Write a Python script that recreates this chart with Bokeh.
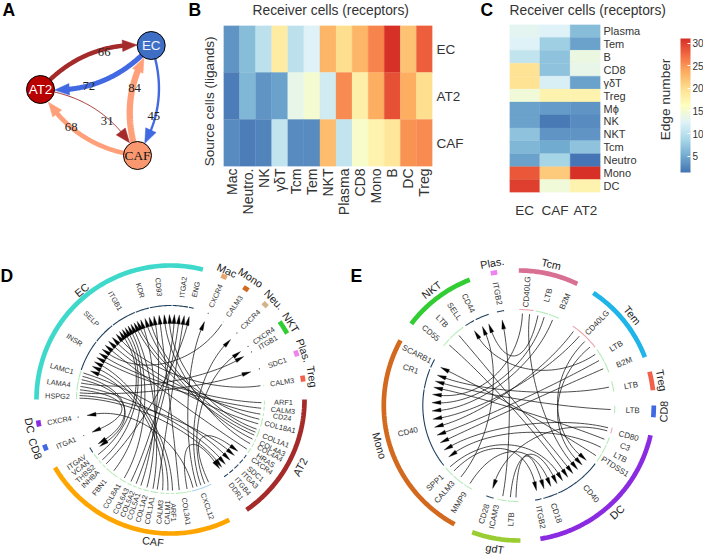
import math
from bokeh.embed import file_html
from bokeh.resources import INLINE
from bokeh.plotting import figure
from bokeh.layouts import row, column
from bokeh.models import (ColumnDataSource, FactorRange, Range1d, LinearColorMapper, ColorBar,
                          FixedTicker)
from bokeh.palettes import RdYlBu9, interp_palette
from bokeh.transform import transform
from bokeh.core.properties import value

# ---------------- data ----------------
A_nodes = ["EC", "AT2", "CAF"]
A_sources = ["AT2", "EC", "CAF", "EC", "AT2", "CAF"]
A_targets = ["EC", "AT2", "EC", "CAF", "CAF", "AT2"]
A_values = [66, 72, 84, 45, 31, 68]

B_cols = ["Mac", "Neutro.", "NK", "γδT", "Tcm", "Tem", "NKT", "Plasma", "CD8", "Mono", "B", "DC", "Treg"]
B_rows = ["EC", "AT2", "CAF"]
B_EC = [3.5, 6.5, 10, 18.5, 10, 12.5, 23, 20, 23, 26, 31, 22, 28]
B_AT2 = [2, 6, 3.5, 4.5, 13.5, 15, 11.5, 25.5, 18, 23.5, 29, 23.5, 20]
B_CAF = [3, 2, 2.5, 10.5, 3, 3, 22.5, 10.5, 15.5, 17.5, 19, 25, 25.5]

C_cols = ["EC", "CAF", "AT2"]
C_rows = ["Plasma", "Tem", "B", "CD8", "γδT", "Treg", "Mϕ", "NK", "NKT", "Tcm", "Neutro", "Mono", "DC"]
C_EC = [13, 12.5, 10.5, 19.5, 19.5, 14.5, 4.5, 4.5, 7, 6, 4.5, 28.5, 30]
C_CAF = [12.5, 8, 7, 7, 12, 17.5, 4, 1.8, 3.5, 5, 8.5, 21.5, 14.5]
C_AT2 = [6.5, 4.5, 14, 13.5, 4.5, 17.5, 3.5, 3, 3.5, 7, 1.5, 31, 17.5]
BAR_TICKS = [5, 10, 15, 20, 25, 30]

D_sector_names = ["EC", "Mac", "Mono", "Neu.", "NKT", "Plas.", "Treg", "AT2", "CAF", "CD8", "DC"]
D_gene_ids = ["EC.HSPG2", "EC.LAMA4", "EC.LAMC1", "EC.INSR", "EC.SELP", "EC.ITGB1", "EC.KDR", "EC.CD93", "EC.ITGA2", "EC.ENG",
              "Mac.CXCR4", "Mono.CALM3", "Neu.CXCR4", "NKT.CXCR4", "NKT.ITGB1", "Plas.SDC1", "Treg.CALM3",
              "AT2.ARF1", "AT2.CALM3", "AT2.CD24", "AT2.COL18A1", "AT2.COL1A1", "AT2.COL4A3", "AT2.COL4A4", "AT2.HRAS",
              "AT2.CXCR4", "AT2.SDC1", "AT2.ITGA3", "AT2.ITGB4", "AT2.DDR1",
              "CAF.CXCL12", "CAF.COL3A1", "CAF.ARF1", "CAF.CALM1", "CAF.CALM3", "CAF.COL1A1", "CAF.COL1A2", "CAF.COL5A1",
              "CAF.COL5A2", "CAF.COL6A3", "CAF.COL8A1", "CAF.FBN1", "CAF.INHBA", "CAF.THBS2", "CAF.VCAN", "CAF.ITGAV",
              "CD8.ITGA1", "DC.CXCR4"]
D_links = {
    "EC.INSR": ["AT2.ARF1", "AT2.CALM3", "CAF.ARF1", "CAF.CALM1", "CAF.CALM3", "Mono.CALM3"],
    "EC.SELP": ["AT2.CD24", "AT2.HRAS", "Treg.CALM3", "AT2.COL18A1"],
    "EC.ITGB1": ["AT2.COL18A1", "AT2.COL1A1", "CAF.COL1A1", "CAF.FBN1", "CAF.VCAN", "CAF.COL8A1", "CAF.THBS2"],
    "EC.KDR": ["AT2.COL1A1", "AT2.COL4A3", "CAF.COL1A2"],
    "EC.CD93": ["AT2.COL1A1", "AT2.COL4A4", "CAF.COL3A1", "CAF.COL5A1"],
    "EC.ITGA2": ["CAF.COL1A1", "CAF.COL5A2", "CAF.COL6A3"],
    "EC.ENG": ["CAF.INHBA"],
    "Mac.CXCR4": ["CAF.CXCL12"], "Neu.CXCR4": ["CAF.CXCL12"], "NKT.CXCR4": ["CAF.CXCL12"],
    "NKT.ITGB1": ["EC.LAMA4"], "Plas.SDC1": ["EC.HSPG2"], "DC.CXCR4": ["CAF.CXCL12"], "CD8.ITGA1": ["EC.LAMA4"],
    "CAF.ITGAV": ["EC.LAMC1", "EC.LAMC1"],
    "AT2.CXCR4": ["CAF.CXCL12"], "AT2.SDC1": ["EC.HSPG2"], "AT2.ITGA3": ["EC.LAMC1"],
    "AT2.ITGB4": ["EC.LAMA4"], "AT2.DDR1": ["EC.HSPG2", "CAF.COL3A1"],
}

E_sector_names = ["Plas.", "Tcm", "Tem", "Treg", "CD8", "DC", "gdT", "Mono", "NKT"]
E_gene_ids = ["Plas.ITGB2", "Tcm.CD40LG", "Tcm.LTB", "Tcm.B2M", "Tem.CD40LG", "Tem.LTB", "Tem.B2M", "Treg.LTB", "CD8.LTB",
              "DC.CD80", "DC.C3", "DC.LTB", "DC.PTDSS1", "DC.CD40", "DC.CD18", "DC.ITGB2",
              "gdT.LTB", "gdT.ICAM3", "gdT.CD28", "Mono.MMP9", "Mono.CALM3", "Mono.SPP1", "Mono.CD40", "Mono.CR1", "Mono.SCARB1",
              "NKT.CD55", "NKT.LTB", "NKT.SELL", "NKT.CD44"]
E_links = {
    "Plas.ITGB2": ["gdT.ICAM3"],
    "gdT.CD28": ["DC.CD80"],
    "DC.CD40": ["Tcm.CD40LG", "Tem.CD40LG", "Tem.CD40LG", "gdT.LTB", "Mono.SPP1", "NKT.LTB", "NKT.CD55"],
    "DC.CD18": ["gdT.LTB", "Mono.MMP9"],
    "DC.ITGB2": ["Mono.SPP1"],
    "Mono.CD40": ["Tcm.CD40LG", "Tcm.LTB", "Tcm.B2M", "Tem.CD40LG", "Tem.CD40LG", "Tem.LTB", "Tem.B2M", "DC.CD80", "DC.LTB"],
    "Mono.CR1": ["Treg.LTB", "CD8.LTB", "DC.C3"],
    "Mono.SCARB1": ["DC.PTDSS1"],
    "NKT.SELL": ["Tem.LTB"],
    "NKT.CD44": ["Tcm.LTB", "Mono.CALM3"],
}

# ---------------- layout (pixels of the page, angles clockwise from east) ----------------
FONT = "Liberation Sans"
SERIF = "Liberation Serif"
TOP_Y, MID_Y, BOT_Y = 0, 245, 556
B_TOP, C_TOP = 25, 24
B_L, B_GAP, C_L, C_R, RIGHT_X = 223, 470, 509, 650, 703
DE_X = 345

A_node_xy = {"EC": (150.7, 45), "AT2": (40, 89), "CAF": (137, 155)}
A_node_fill = {"EC": "#3f6fc4", "AT2": "#b80000", "CAF": "#f9986f"}
A_node_text = {"EC": "#f0f4ff", "AT2": "#ffffff", "CAF": "#111111"}
A_edge_color = {"EC": "#4169e1", "AT2": "#a52a2a", "CAF": "#ffa07a"}
A_label_xy = [(103.7, 51.7), (88.3, 85), (134, 87.3), (153.3, 115.7), (106.7, 120.7), (70.7, 126)]

D_sector_start = [180, 292.3, 303, 313.7, 324.5, 338.6, 349.7, 0, 64, 157.7, 168.4]
D_sector_end = [284, 294.8, 305.5, 316.2, 330.5, 341.2, 352.3, 55.4, 149.5, 160.3, 171]
D_sector_colors = ["#3fd9cb", "#e9a66f", "#d2691e", "#d2b48c", "#32cd32", "#ee82ee", "#f4614a", "#a52a2a", "#ffa500", "#4169e1", "#8a2be2"]
D_sector_label = [231, 293.6, 303.3, 316, 327.4, 339.8, 350.8, 27.5, 97, 160, 169.5]
D_sector_label_r = [141, 141, 146, 144, 143, 142, 143.5, 146, 143, 143.7, 143]
D_gene_start = [180, 185, 191.5, 198, 218, 232, 248, 257, 271, 281, 293, 303.6, 314.4, 325, 329, 340.4, 350.8,
                0.5, 4, 8, 11, 18, 24.5, 27.5, 31, 36, 39.5, 43.5, 48, 52,
                64, 77, 87.5, 90.3, 93.5, 97, 103, 107.5, 110.7, 114, 118, 124, 133.5, 137, 140.5, 145.5, 156.8, 168.6]
D_gene_end = [185, 191.5, 198, 218, 232, 248, 257, 271, 281, 284.5, 294.2, 305, 315.6, 326.2, 330.2, 341.6, 351.8,
              3.5, 7, 10.5, 17, 24, 27, 30.5, 35, 39, 43, 47.5, 51.5, 55.5,
              77, 87, 90, 93, 96.5, 102.5, 107, 110.5, 113.7, 117.5, 123, 133, 136.5, 140, 145, 149.5, 158, 169.8]
D_gene_label = [181.7, 188.3, 195.8, 211.8, 225.6, 240.7, 254.5, 264, 276.5, 283, 293.6, 304.4, 315, 325.6, 329.6, 341, 351.2,
                1.5, 5.6, 9, 14.1, 21.3, 25.7, 28.4, 32.6, 36, 41.2, 45.4, 50.2, 54.5,
                70.9, 82, 88.5, 91.6, 95.4, 100.7, 104.9, 109, 112.4, 116, 121.2, 129, 135.2, 138.9, 142.8, 146.3, 157.4, 169.3]
D_kind = {"CAF.CXCL12": "#a9d3ea"}

E_sector_start = [258, 270, 303.5, 345.5, 0, 12.7, 89.3, 118.4, 217.2]
E_sector_end = [260.8, 295.7, 339, 353.5, 5, 80.8, 110.2, 208.8, 248.7]
E_sector_colors = ["#ee82ee", "#d87093", "#1fb5e8", "#f4614a", "#4169e1", "#8a2be2", "#9acd32", "#d2691e", "#32cd32"]
E_sector_label_angle = [259.4, 282.9, 321.5, 350, 2.4, 47.3, 99.5, 163.9, 233]
E_sector_label_r = [145] * 9
E_gene_start = [256.5, 270, 280, 288, 304, 324, 333, 345, 0, 13, 19, 24, 30, 37, 66, 76,
                90, 97, 105, 119, 125, 133, 141, 190, 203, 218, 224, 236, 243]
E_gene_end = [261.5, 279, 288, 295, 323, 333, 340, 352, 5, 17, 24, 30, 36, 66, 75.5, 80.5,
              97, 103, 110, 125, 133, 140, 190, 202.5, 209, 224, 235, 242.5, 252]
E_gene_label = [259.1, 274.1, 284.9, 294, 313.5, 328.7, 337.7, 349.9, 2.5, 15.6, 21.3, 27.2, 32.5, 50.7, 70.8, 79,
                93.8, 102.5, 107.7, 121.7, 130.6, 137.3, 166.6, 198.6, 206.7, 219.4, 227.6, 235.6, 243.7]
E_kind = {"Tcm.CD40LG": "#eba6b0", "Tem.CD40LG": "#eba6b0", "DC.CD80": "#eba6b0"}
LIGAND_GREEN = "#b5ecb8"
RECEPTOR_NAVY = "#1d3f5e"

mapper = LinearColorMapper(palette=interp_palette(list(RdYlBu9), 256), low=1.4, high=31)


def pixel_fig(x0, x1, y0, y1):
    p = figure(width=x1 - x0, height=y1 - y0, x_range=Range1d(x0, x1), y_range=Range1d(y1, y0),
               output_backend="svg", toolbar_location=None, min_border=0, frame_align=False)
    p.axis.visible = False
    p.grid.visible = False
    p.outline_line_color = None
    return p


def letter(p, x, y, s):
    p.text([x], [y], text=[s], text_font=value(FONT), text_font_style="bold", text_font_size=value("17.5px"),
           text_align="left", text_baseline="middle", text_color="black")


def note(p, x, y, s, size="13.8px", angle=0.0, align="left"):
    p.text([x], [y], text=[s], angle=angle, text_font=value(FONT), text_font_size=value(size),
           text_align=align, text_baseline="middle", text_color="#333333")


def polar(cx, cy, r, a):
    t = math.radians(a)
    return cx + r * math.cos(t), cy + r * math.sin(t)


# ---------------- panel A ----------------
pa = pixel_fig(0, B_L, TOP_Y, MID_Y)
letter(pa, 2, 9, "A")
letter(pa, 188, 9, "B")
note(pa, 209, 99, "Source cells  (ligands)", size="13.6px", angle=math.pi / 2, align="center")
R_NODE = 14
BEND = 0.25
xs, ys, widths, cols, hx, hy, hc = [], [], [], [], [], [], []
for s, t, v in zip(A_sources, A_targets, A_values):
    x0, y0 = A_node_xy[s]
    x2, y2 = A_node_xy[t]
    dx, dy = x2 - x0, y2 - y0
    cxx, cyy = (x0 + x2) / 2 + BEND * dy, (y0 + y2) / 2 - BEND * dx
    pts = []
    for i in range(121):
        u = i / 120
        pts.append(((1 - u) ** 2 * x0 + 2 * u * (1 - u) * cxx + u ** 2 * x2,
                    (1 - u) ** 2 * y0 + 2 * u * (1 - u) * cyy + u ** 2 * y2))
    outside = [q for q in pts if math.dist(q, (x0, y0)) > R_NODE and math.dist(q, (x2, y2)) > R_NODE]
    tip = outside[-1]
    line = [q for q in outside if math.dist(q, tip) > 10]
    base = next(q for q in reversed(outside) if math.dist(q, tip) >= 14)
    ux, uy = (tip[0] - base[0]) / 14, (tip[1] - base[1]) / 14
    hx.append([tip[0], base[0] - uy * 5.5, base[0] + uy * 5.5])
    hy.append([tip[1], base[1] + ux * 5.5, base[1] - ux * 5.5])
    hc.append(A_edge_color[s])
    xs.append([q[0] for q in line])
    ys.append([q[1] for q in line])
    widths.append(1 + (v - 31) * 0.1)
    cols.append(A_edge_color[s])
pa.multi_line(xs, ys, line_width=widths, line_color=cols, line_cap="round")
pa.patches(hx, hy, fill_color=hc, line_color=hc, line_width=0.5)
pa.text([q[0] for q in A_label_xy], [q[1] for q in A_label_xy], text=[str(v) for v in A_values],
        text_font=value(SERIF), text_font_size=value("12.7px"), text_align="center", text_baseline="middle",
        text_color="#222222")
pa.circle([A_node_xy[n][0] for n in A_nodes], [A_node_xy[n][1] for n in A_nodes], radius=R_NODE,
          fill_color=[A_node_fill[n] for n in A_nodes], line_color="black", line_width=1)
for n in A_nodes:
    pa.text([A_node_xy[n][0]], [A_node_xy[n][1] + 0.3], text=[n], text_font=value(SERIF if n == "CAF" else FONT),
            text_font_size=value("13.4px"), text_align="center", text_baseline="middle", text_color=A_node_text[n])


# ---------------- panels B, C ----------------
def style_axis(ax, size, standoff):
    ax.major_tick_line_color = None
    ax.minor_tick_line_color = None
    ax.major_tick_in = 0
    ax.major_tick_out = 0
    ax.axis_line_color = None
    ax.major_label_text_font = FONT
    ax.major_label_text_font_size = size
    ax.major_label_text_color = "#333333"
    ax.major_label_standoff = standoff


pb_head = pixel_fig(B_L, B_GAP, TOP_Y, B_TOP)
note(pb_head, 252, 10, "Receiver cells (receptors)")

B_values = {"EC": B_EC, "AT2": B_AT2, "CAF": B_CAF}
src_b = ColumnDataSource(dict(
    col=[c for r in B_rows for c in B_cols],
    row=[r for r in B_rows for c in B_cols],
    v=[x for r in B_rows for x in B_values[r]]))
pb = figure(width=B_GAP - B_L, height=MID_Y - B_TOP, x_range=FactorRange(factors=B_cols),
            y_range=FactorRange(factors=B_rows[::-1]), y_axis_location="right",
            output_backend="svg", toolbar_location=None, frame_align=False,
            min_border_left=0, min_border_right=38, min_border_top=0, min_border_bottom=79)
pb.rect("col", "row", 1, 1, source=src_b, fill_color=transform("v", mapper), line_color=transform("v", mapper), line_width=0.3)
pb.grid.visible = False
pb.outline_line_color = None
pb.xaxis.major_label_orientation = math.pi / 2
style_axis(pb.xaxis[0], "14px", 2)
style_axis(pb.yaxis[0], "13.5px", 4)

p_gap = pixel_fig(B_GAP, C_L, TOP_Y, MID_Y)
letter(p_gap, 480, 9, "C")

pc_head = pixel_fig(C_L, RIGHT_X, TOP_Y, C_TOP)
note(pc_head, 509, 10, "Receiver cells (receptors)")

C_values = {"EC": C_EC, "CAF": C_CAF, "AT2": C_AT2}
src_c = ColumnDataSource(dict(
    col=[c for c in C_cols for r in C_rows],
    row=[r for c in C_cols for r in C_rows],
    v=[x for c in C_cols for x in C_values[c]]))
pc = figure(width=C_R - C_L, height=MID_Y - C_TOP, x_range=FactorRange(factors=C_cols),
            y_range=FactorRange(factors=C_rows[::-1]), y_axis_location="right",
            output_backend="svg", toolbar_location=None, frame_align=False,
            min_border_left=0, min_border_right=50, min_border_top=0, min_border_bottom=53)
pc.rect("col", "row", 1, 1, source=src_c, fill_color=transform("v", mapper), line_color=transform("v", mapper), line_width=0.3)
pc.grid.visible = False
pc.outline_line_color = None
style_axis(pc.xaxis[0], "13.5px", 10)
style_axis(pc.yaxis[0], "11px", 3)

pr = pixel_fig(C_R, RIGHT_X, C_TOP, MID_Y)
note(pr, 665, 99, "Edge number", size="13.6px", angle=math.pi / 2, align="center")
bar = ColorBar(color_mapper=mapper, ticker=FixedTicker(ticks=BAR_TICKS), width=10, height=134,
               location=(30, 73), padding=0, margin=0, major_tick_line_color="white", major_tick_in=3,
               major_label_text_font=FONT, major_label_text_font_size="10px", major_label_text_color="#333333",
               background_fill_color=None, bar_line_color=None, label_standoff=2)
pr.add_layout(bar)


# ---------------- chord panels ----------------
def face_out(a):
    a = a % 360
    return a + 90 if a > 180 else a - 90


def face_radial(a):
    a = a % 360
    return a if (a <= 90 or a >= 270) else a - 180


def chord(p, cx, cy, r_out, r_in, r_sec_labels, r_gene_label, r_tip, r_start,
          names, s_start, s_end, s_col, s_lab, thick, gene_ids, g_start, g_end, g_lab, links, kinds, gene_size):
    arcx, arcy = [], []
    for a0, a1 in zip(s_start, s_end):
        n = max(3, int(abs(a1 - a0)))
        angs = [a0 + (a1 - a0) * i / n for i in range(n + 1)]
        arcx.append([polar(cx, cy, r_out, a)[0] for a in angs])
        arcy.append([polar(cx, cy, r_out, a)[1] for a in angs])
    p.multi_line(arcx, arcy, line_color=s_col, line_width=thick, line_cap="butt")
    lx = [polar(cx, cy, r, a)[0] for r, a in zip(r_sec_labels, s_lab)]
    ly = [polar(cx, cy, r, a)[1] for r, a in zip(r_sec_labels, s_lab)]
    p.text(lx, ly, text=names, angle=[-math.radians(face_out(a)) for a in s_lab], text_font=value(FONT),
           text_font_size=value("10.8px"), text_align="center", text_baseline="middle", text_color="#222222")
    receivers = set(links)
    ring = {g: (a0, a1) for g, a0, a1 in zip(gene_ids, g_start, g_end)}
    gx, gy, gc = [], [], []
    for g in gene_ids:
        a0, a1 = ring[g]
        n = max(2, int(a1 - a0) + 1)
        a0 += 0.3
        a1 -= 0.3
        angs = [a0 + (a1 - a0) * i / n for i in range(n + 1)]
        gx.append([polar(cx, cy, r_in, a)[0] for a in angs])
        gy.append([polar(cx, cy, r_in, a)[1] for a in angs])
        gc.append(RECEPTOR_NAVY if g in receivers else kinds.get(g, LIGAND_GREEN))
    p.multi_line(gx, gy, line_color=gc, line_width=1.1, line_cap="butt")
    tx = [polar(cx, cy, r_gene_label, a)[0] for a in g_lab]
    ty = [polar(cx, cy, r_gene_label, a)[1] for a in g_lab]
    p.text(tx, ty, text=[g.split(".")[1] for g in gene_ids], angle=[-math.radians(face_radial(a)) for a in g_lab],
           text_font=value(FONT), text_font_size=value(gene_size), text_align="center", text_baseline="middle",
           text_color="#333333")
    per_gene = {}
    for tgt, srcs in links.items():
        for s in srcs:
            per_gene.setdefault(tgt, []).append((s, tgt))
            per_gene.setdefault(s, []).append((s, tgt))
    mid = {g: (ring[g][0] + ring[g][1]) / 2 for g in gene_ids}
    slot = {}
    for g, pairs in per_gene.items():
        others = sorted(range(len(pairs)), key=lambda i: -(((mid[pairs[i][0]] if pairs[i][1] == g else mid[pairs[i][1]]) - mid[g]) % 360))
        a0, a1 = ring[g]
        for k, i in enumerate(others):
            slot[(g, i)] = a0 + (a1 - a0) * (k + 0.5) / len(pairs)
    counters = {}
    lx_, ly_, hx_, hy_ = [], [], [], []
    for tgt, srcs in links.items():
        for s in srcs:
            i_s = counters.get(s, 0)
            counters[s] = i_s + 1
            i_t = counters.get(tgt, 0)
            counters[tgt] = i_t + 1
            a_s = slot[(s, i_s)]
            a_t = slot[(tgt, i_t)]
            p0 = polar(cx, cy, r_start, a_s)
            p3 = polar(cx, cy, r_tip - 5, a_t)
            c1 = polar(cx, cy, r_start * 0.45, a_s)
            c2 = polar(cx, cy, r_tip * 0.45, a_t)
            bx, by = [], []
            for j in range(41):
                u = j / 40
                bx.append((1 - u) ** 3 * p0[0] + 3 * u * (1 - u) ** 2 * c1[0] + 3 * u * u * (1 - u) * c2[0] + u ** 3 * p3[0])
                by.append((1 - u) ** 3 * p0[1] + 3 * u * (1 - u) ** 2 * c1[1] + 3 * u * u * (1 - u) * c2[1] + u ** 3 * p3[1])
            lx_.append(bx)
            ly_.append(by)
            tip = polar(cx, cy, r_tip, a_t)
            dx, dy = tip[0] - bx[-4], tip[1] - by[-4]
            d = math.hypot(dx, dy)
            ux, uy = dx / d, dy / d
            bs = (tip[0] - ux * 9, tip[1] - uy * 9)
            hx_.append([tip[0], bs[0] - uy * 2, bs[0] + uy * 2])
            hy_.append([tip[1], bs[1] + ux * 2, bs[1] - ux * 2])
    p.multi_line(lx_, ly_, line_color="#111111", line_width=0.75)
    p.patches(hx_, hy_, fill_color="black", line_color="black", line_width=0.3)


pd_ = pixel_fig(0, DE_X, MID_Y, BOT_Y)
letter(pd_, 0, 275, "D")
chord(pd_, 170, 399, 134, 94, D_sector_label_r, 113, 85, 91,
      D_sector_names, D_sector_start, D_sector_end, D_sector_colors, D_sector_label, 4.7,
      D_gene_ids, D_gene_start, D_gene_end, D_gene_label, D_links, D_kind, "7.3px")

pe = pixel_fig(DE_X, RIGHT_X, MID_Y, BOT_Y)
letter(pe, 350, 275, "E")
chord(pe, 518.3, 405, 135, 96, E_sector_label_r, 114, 87, 92,
      E_sector_names, E_sector_start, E_sector_end, E_sector_colors, E_sector_label_angle, 4.7,
      E_gene_ids, E_gene_start, E_gene_end, E_gene_label, E_links, E_kind, "8px")

top = row(pa, column(pb_head, pb, spacing=0), p_gap, column(pc_head, row(pc, pr, spacing=0), spacing=0), spacing=0)
page = column(top, row(pd_, pe, spacing=0), spacing=0)
open("out.html", "w").write(file_html(page, INLINE))
